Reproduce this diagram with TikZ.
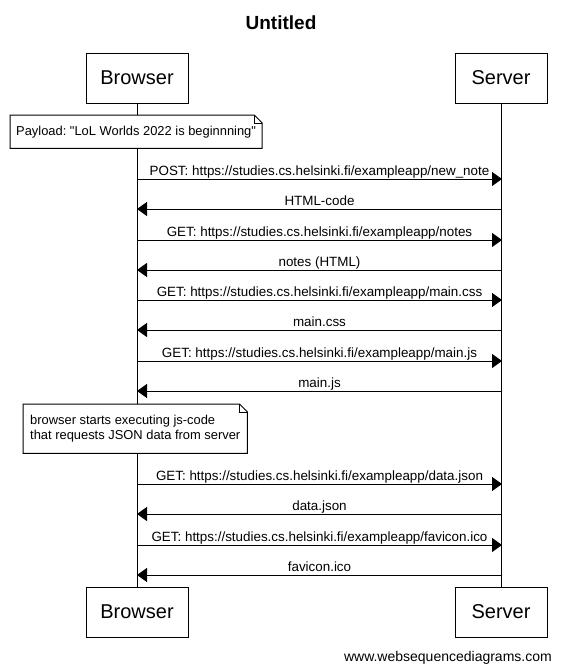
\documentclass[tikz,border=0pt]{standalone}
\usepackage{fontspec}
\setmainfont{Liberation Sans}
\usetikzlibrary{arrows.meta}
\frenchspacing

\begin{document}
\begin{tikzpicture}[
                x=1pt,y=-1pt,
                actor/.style={draw,line width=1pt,minimum height=50pt,inner sep=0pt,font=\fontsize{20}{24}\selectfont},
                life/.style={black,line width=1pt},
                msg/.style={black,line width=1pt,-{Triangle[length=10pt,width=14pt]}},
                lbl/.style={anchor=base,yshift=4pt,inner sep=0pt,font=\fontsize{13.4}{15}\selectfont},
                notebox/.style={anchor=north west,fill=white,inner xsep=6pt,inner ysep=0pt,align=left,font=\fontsize{12.9}{15.5}\selectfont},
                fold/.style={black,line width=1pt}
            ]
                \useasboundingbox (0,0) rectangle (561,672);
                % Title and actors
                \node[anchor=base,font=\bfseries\fontsize{19}{22}\selectfont] (title) at (281,29) {Untitled};
                \node[actor,minimum width=102pt] (bt) at (137,78) {Browser};
                \node[actor,minimum width=92pt]  (st) at (501,78) {Server};
                \node[actor,minimum width=102pt] (bb) at (137,612) {Browser};
                \node[actor,minimum width=92pt]  (sb) at (501,612) {Server};
                % Lifelines
                \draw[life] (bt.south) -- (bb.north);
                \draw[life] ([xshift=0.5pt]st.south) -- ([xshift=0.5pt]sb.north);
                % Notes
                \node[notebox,minimum height=33pt] (n1) at (10,115)
                    {Payload: \textquotedbl LoL Worlds 2022 is beginnning\textquotedbl};
                \node[notebox,minimum height=49pt,inner xsep=7pt] (n2) at (23,404)
                    {browser starts executing js-code\\that requests JSON data from server};
                \foreach \n in {n1,n2} {
                    \draw[fold] (\n.south west) -- (\n.north west) -- ([xshift=-8pt]\n.north east)
                        -- ([yshift=-8pt]\n.north east) -- (\n.south east) -- cycle;
                    \draw[fold] ([xshift=-8pt]\n.north east) |- ([yshift=-8pt]\n.north east);
                }
                % Requests: browser to server
                \foreach \y/\txt in {
                    179/{POST: https://studies.cs.helsinki.fi/exampleapp/new\_note},
                    240/{GET: https://studies.cs.helsinki.fi/exampleapp/notes},
                    300/{GET: https://studies.cs.helsinki.fi/exampleapp/main.css},
                    361/{GET: https://studies.cs.helsinki.fi/exampleapp/main.js},
                    484/{GET: https://studies.cs.helsinki.fi/exampleapp/data.json},
                    545/{GET: https://studies.cs.helsinki.fi/exampleapp/favicon.ico}} {
                    \coordinate (b\y) at (137,\y);
                    \coordinate (s\y) at (502,\y);
                    \draw[msg] (b\y) -- node[lbl] {\txt} (s\y);
                }
                % Responses: server to browser
                \foreach \y/\txt in {
                    209/{HTML-code},
                    270/{notes (HTML)},
                    330/{main.css},
                    391/{main.js},
                    514/{data.json},
                    575/{favicon.ico}} {
                    \coordinate (b\y) at (137,\y);
                    \coordinate (s\y) at (502,\y);
                    \draw[msg] (s\y) -- node[lbl] {\txt} (b\y);
                }
                % Footer
                \node[anchor=base east,inner sep=0pt,font=\fontsize{14}{16}\selectfont] (foot) at (552,661) {www.websequencediagrams.com};
            \end{tikzpicture}
\end{document}
